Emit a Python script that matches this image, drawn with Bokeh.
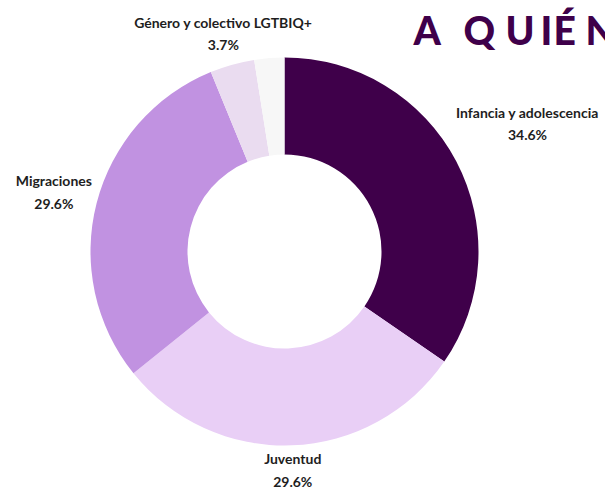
import numpy as np
from bokeh.plotting import figure
from bokeh.models import Range1d, ColumnDataSource
from bokeh.core.properties import value
from bokeh.embed import file_html
from bokeh.resources import INLINE

# ---- data ----
categories = ["Infancia y adolescencia", "Juventud", "Migraciones",
              "Género y colectivo LGTBIQ+", "Otros"]
percentages = [34.6, 29.6, 29.6, 3.7, 2.5]
colors = ["#3f004a", "#e9cff6", "#c192e1", "#eadcf0", "#f7f7f7"]
show_label = [True, True, True, True, False]
title_text = "A QUIÉN"

# ---- layout (picture pixel space) ----
W, H = 605, 487
OFF = 0
CX, CY = 284, 251          # donut centre
R_OUT, R_IN = 194, 97
TITLE_COLOR = "#3f004a"

p = figure(width=W, height=H, output_backend="svg", toolbar_location=None,
           x_range=Range1d(OFF - CX, OFF + W - CX),
           y_range=Range1d(CY - (OFF + H), CY - OFF),
           min_border=0)
p.axis.visible = False
p.grid.visible = False
p.outline_line_color = None
p.background_fill_color = "white"
p.border_fill_color = "white"

frac = np.array(percentages) / sum(percentages)
cum = np.concatenate([[0], np.cumsum(frac)[:-1]])
start = np.pi / 2 - 2 * np.pi * cum
end = np.pi / 2 - 2 * np.pi * (cum + frac)

src = ColumnDataSource(dict(start=start, end=end, color=colors))
p.annular_wedge(x=0, y=0, inner_radius=R_IN, outer_radius=R_OUT,
                start_angle="start", end_angle="end", direction="clock",
                fill_color="color", line_color=None, source=src)

# ---- labels ----
CHAR_W = 6.6
BOX_H = 40
GAP = 4
TOP_LIMIT = CY - 13
l1x, l1y, l1t, l2x, l2y, l2t = [], [], [], [], [], []
for name, pct, f, c, show in zip(categories, percentages, frac, cum, show_label):
    if not show:
        continue
    th = 2 * np.pi * (c + f / 2)
    dx, dy = np.sin(th), np.cos(th)
    pct_s = f"{pct:.1f}%"
    w = max(len(name), len(pct_s)) * CHAR_W
    dist = R_OUT + GAP + w / 2 * abs(dx) + BOX_H / 2 * abs(dy)
    cy = dist * dy
    if cy + BOX_H / 2 > TOP_LIMIT:
        dist = (TOP_LIMIT - BOX_H / 2) / dy
    cxv, cyv = dist * dx, dist * dy
    l1x.append(cxv); l1y.append(cyv + 11.5); l1t.append(name)
    l2x.append(cxv); l2y.append(cyv - 11.0); l2t.append(pct_s)

for xs, ys, ts in [(l1x, l1y, l1t), (l2x, l2y, l2t)]:
    p.text(x=xs, y=ys, text=ts, text_align="center", text_baseline="middle",
           text_font=value("Lato"), text_font_style="bold",
           text_font_size="14px", text_color="#1e1e1e")

# ---- title (letter-spaced, cut at right edge) ----
letter_page_x = [413, 463, 505, 540, 553, 585]
letters = [ch for ch in title_text if ch != " "]
p.text(x=[x - CX for x in letter_page_x], y=[CY - 29] * len(letters),
       text=letters, text_align="left", text_baseline="alphabetic",
       text_font=value("Lato Black"), text_font_style="normal",
       text_font_size="39px", text_color=TITLE_COLOR)

open("out.html", "w").write(file_html(p, INLINE))
